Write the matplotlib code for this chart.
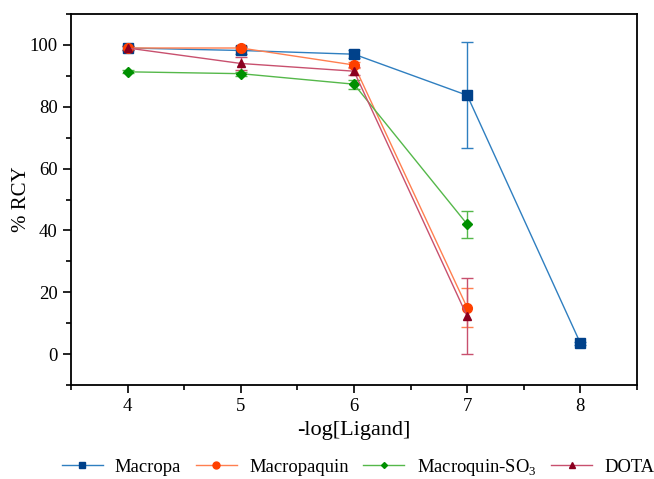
import matplotlib
matplotlib.use("Agg")
import matplotlib.pyplot as plt
import matplotlib.lines as mlines
from matplotlib.ticker import MultipleLocator

plt.rcParams["font.family"] = ["Liberation Serif", "DejaVu Serif"]
plt.rcParams["mathtext.fontset"] = "custom"
plt.rcParams["mathtext.rm"] = "Liberation Serif"

x_vals = [4, 5, 6, 7, 8]

macropa = [99.0, 98.2, 97.0, 83.7, 3.5]
macropa_err = [0.8, 1.0, 1.2, 17.2, 0.5]

macropaquin = [99.0, 99.0, 93.5, 15.0]
macropaquin_err = [0.5, 0.5, 1.0, 6.3]

macroquin_so3 = [91.3, 90.7, 87.3, 42.0]
macroquin_so3_err = [0.5, 0.6, 1.5, 4.3]

dota = [99.0, 94.0, 91.5, 12.2]
dota_err = [0.5, 2.0, 1.2, 12.3]

series = [
    ("Macropa", macropa, macropa_err, "#2f7fc0", "#00418a", "s", 7),
    ("Macropaquin", macropaquin, macropaquin_err, "#ff7f50", "#ff4000", "o", 7),
    ("Macroquin-SO$_\\mathregular{3}$", macroquin_so3, macroquin_so3_err, "#55b84a", "#009000", "D", 5),
    ("DOTA", dota, dota_err, "#c8506e", "#8b0020", "^", 6),
]

fig = plt.figure(figsize=(6.54, 4.79), dpi=100)
ax = fig.add_axes([71 / 654, 1 - 385 / 479, 566 / 654, 371 / 479])

handles = []
for name, vals, err, lc, mc, mk, ms in series:
    xs = x_vals[:len(vals)]
    ax.errorbar(xs, vals, yerr=err, color=lc, linewidth=1.0, marker=mk,
                markersize=ms, markerfacecolor=mc, markeredgecolor=mc,
                ecolor=lc, elinewidth=1.0, capsize=4, capthick=1.0)
    handles.append(mlines.Line2D([], [], color=lc, linewidth=1.0, marker=mk,
                                 markersize=ms - 2, markerfacecolor=mc,
                                 markeredgecolor=mc, label=name))

ax.set_xlim(3.5, 8.5)
ax.set_ylim(-10, 110)
ax.xaxis.set_major_locator(MultipleLocator(1))
ax.xaxis.set_minor_locator(MultipleLocator(0.5))
ax.yaxis.set_major_locator(MultipleLocator(20))
ax.yaxis.set_minor_locator(MultipleLocator(10))
ax.tick_params(which="major", direction="out", length=6, width=1.2, labelsize=13.5)
ax.tick_params(which="minor", direction="out", length=3.5, width=1.2)
for sp in ax.spines.values():
    sp.set_linewidth(1.3)

ax.set_xlabel("-log[Ligand]", fontsize=16)
ax.set_ylabel("% RCY", fontsize=15)
ax.yaxis.set_label_coords((31 - 71) / 566, 0.5)

fig.legend(handles=handles, loc="center", bbox_to_anchor=(358 / 654, 1 - 467 / 479),
           ncol=4, frameon=False, fontsize=13.4, handlelength=2.2,
           columnspacing=0.8, handletextpad=0.65, borderpad=0, borderaxespad=0)

fig.savefig("out.png", dpi=100)
